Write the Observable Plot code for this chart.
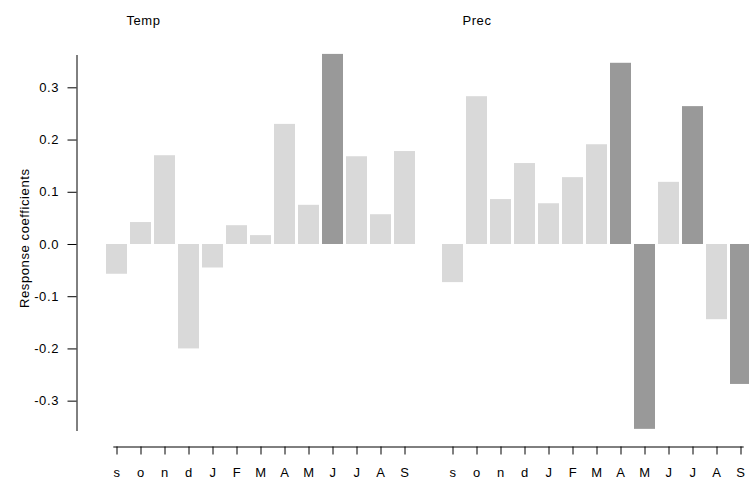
<!DOCTYPE html>
<html>
<head>
<meta charset="utf-8">
<script src="https://cdn.jsdelivr.net/npm/d3@7"></script>
<script src="https://cdn.jsdelivr.net/npm/@observablehq/plot@0.6"></script>
<style>
  html, body { margin: 0; padding: 0; background: #ffffff; }
  #chart { width: 749px; height: 489px; overflow: hidden; }
</style>
</head>
<body>
<div id="chart"></div>
<script>
// Month labels (previous Sep .. current Sep)
const monthLabels = ["s", "o", "n", "d", "J", "F", "M", "A", "M", "J", "J", "A", "S"];
// Group titles
const groups = ["Temp", "Prec"];
// Response coefficients
const tempValues = [-0.057, 0.042, 0.170, -0.200, -0.045, 0.036, 0.017, 0.230, 0.075, 0.364, 0.168, 0.057, 0.178];
const precValues = [-0.073, 0.283, 0.086, 0.155, 0.078, 0.128, 0.191, 0.347, -0.354, 0.119, 0.264, -0.144, -0.268];
// Significant coefficients (drawn darker)
const tempSig = [false, false, false, false, false, false, false, false, false, true, false, false, false];
const precSig = [false, false, false, false, false, false, false, true, true, false, true, false, true];
// Y tick values
const yTicks = [-0.3, -0.2, -0.1, 0.0, 0.1, 0.2, 0.3];

const series = [
  {name: groups[0], values: tempValues, sig: tempSig},
  {name: groups[1], values: precValues, sig: precSig}
];

const data = [];
const keys = [];
series.forEach((s, gi) => {
  if (gi > 0) keys.push("gap");
  monthLabels.forEach((m, i) => {
    const key = s.name + "-" + i;
    keys.push(key);
    data.push({key, label: m, value: s.values[i], sig: s.sig[i], group: s.name});
  });
});
const tickKeys = keys.filter(k => k !== "gap");
const labelOf = Object.fromEntries(data.map(d => [d.key, d.label]));
const titles = series.map(s => ({key: s.name + "-0", text: s.name}));

const LIGHT = "#d9d9d9";
const DARK = "#999999";

const chart = Plot.plot({
  width: 749,
  height: 489,
  marginTop: 55,
  marginLeft: 76.5,
  marginRight: 6.3,
  marginBottom: 42.5,
  style: {fontFamily: "'Liberation Sans', Arial, Helvetica, sans-serif", fontSize: "13px", letterSpacing: "0.6px", color: "#000", background: "#fff"},
  x: {type: "band", domain: keys, range: [102.8, 753.2], paddingInner: 0.133, paddingOuter: 0, axis: null},
  y: {domain: [-0.3562, 0.3619], range: [430, 55], axis: null},
  color: {type: "identity"},
  marks: [
    Plot.barY(data, {x: "key", y: "value", fill: d => d.sig ? DARK : LIGHT}),
    Plot.frame({anchor: "left", insetBottom: 16.5, stroke: "#000"}),
    Plot.frame({anchor: "bottom", insetLeft: 36.8, stroke: "#000"}),
    Plot.axisY({ticks: yTicks, tickSize: 9, tickPadding: 9, tickFormat: d => d.toFixed(1), label: null, stroke: "#000", fill: "#000"}),
    Plot.axisX({ticks: tickKeys, tickSize: 8, tickPadding: 13, tickFormat: k => labelOf[k], label: null, stroke: "#000", fill: "#000"}),
    Plot.text(["Response coefficients"], {text: d => d, frameAnchor: "left", textAnchor: "middle", rotate: -90, dx: -52, dy: -13, fill: "#000"}),
    Plot.text(titles, {x: "key", text: "text", frameAnchor: "top", textAnchor: "start", lineAnchor: "bottom", dx: 9.4, dy: -31, fill: "#000", fontWeight: "normal"})
  ]
});
document.getElementById("chart").appendChild(chart);
</script>
</body>
</html>
